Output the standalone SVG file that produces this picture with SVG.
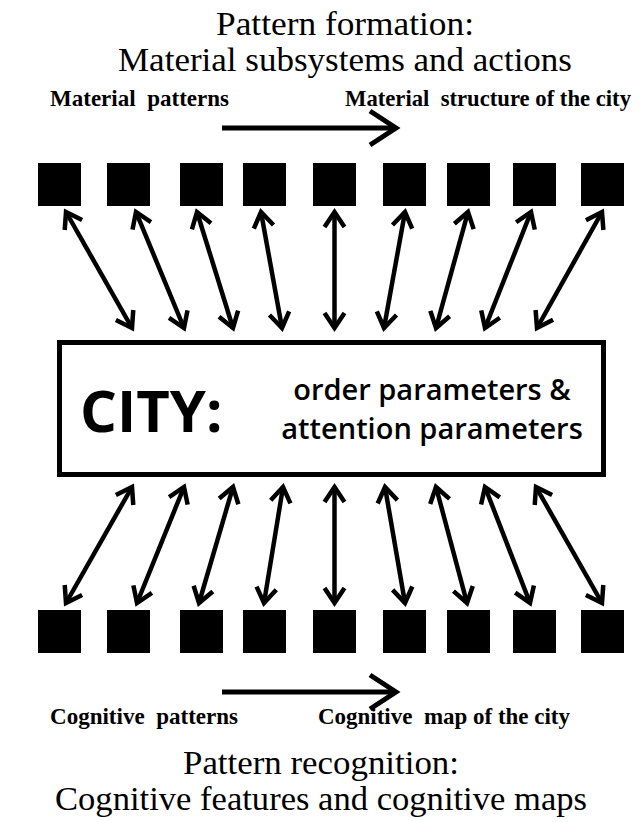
<svg xmlns="http://www.w3.org/2000/svg" width="642" height="822" viewBox="0 0 642 822">
  <style>
    .title { font-family: "Liberation Serif", "Times New Roman", serif; font-size: 34px; fill: #000; text-anchor: middle; }
    .label { font-family: "Liberation Serif", "Times New Roman", serif; font-size: 23px; font-weight: bold; fill: #000; white-space: pre; }
    .sq { fill: #000; }
    .link { stroke: #000; stroke-width: 4.5; fill: none; marker-start: url(#head); marker-end: url(#head); }
    .flow { stroke: #000; stroke-width: 5; fill: none; marker-end: url(#bighead); }
    .city { font-family: "Open Sans", "DejaVu Sans", sans-serif; font-weight: bold; font-size: 58px; fill: #000; }
    .param { font-family: "Open Sans", "DejaVu Sans", sans-serif; font-weight: 600; font-size: 29px; fill: #000; text-anchor: middle; }
  </style>
  <defs>
    <marker id="head" markerUnits="userSpaceOnUse" markerWidth="40" markerHeight="40" viewBox="-20 -20 40 40" refX="0" refY="0" orient="auto-start-reverse" overflow="visible">
      <path d="M -15 -10 L 0 0 L -15 10" fill="none" stroke="#000" stroke-width="4.5" stroke-linejoin="miter"/>
    </marker>
    <marker id="bighead" markerUnits="userSpaceOnUse" markerWidth="60" markerHeight="60" viewBox="-30 -30 60 60" refX="0" refY="0" orient="auto" overflow="visible">
      <path d="M -26 -17 L 0 0 L -26 17" fill="none" stroke="#000" stroke-width="5" stroke-linejoin="miter"/>
    </marker>
  </defs>
  <rect width="642" height="822" fill="#fff"/>

  <!-- headings -->
  <g id="top-heading">
    <text class="title" x="345" y="35" textLength="258" lengthAdjust="spacingAndGlyphs">Pattern formation:</text>
    <text class="title" x="345" y="71" textLength="454" lengthAdjust="spacingAndGlyphs">Material subsystems and actions</text>
  </g>
  <g id="top-flow">
    <text class="label" x="50" y="106" textLength="179" lengthAdjust="spacingAndGlyphs" xml:space="preserve">Material  patterns</text>
    <text class="label" x="345" y="106" textLength="286" lengthAdjust="spacingAndGlyphs" xml:space="preserve">Material  structure of the city</text>
    <line class="flow" x1="222" y1="128" x2="396" y2="128"/>
  </g>

  <!-- material subsystems -->
  <g id="material-nodes">
    <rect id="m1" class="sq" x="38" y="163" width="43" height="43"/>
    <rect id="m2" class="sq" x="107" y="163" width="43" height="43"/>
    <rect id="m3" class="sq" x="180" y="163" width="43" height="43"/>
    <rect id="m4" class="sq" x="243" y="163" width="43" height="43"/>
    <rect id="m5" class="sq" x="313" y="163" width="43" height="43"/>
    <rect id="m6" class="sq" x="383" y="163" width="43" height="43"/>
    <rect id="m7" class="sq" x="447" y="163" width="43" height="43"/>
    <rect id="m8" class="sq" x="513" y="163" width="43" height="43"/>
    <rect id="m9" class="sq" x="581" y="163" width="43" height="43"/>
  </g>

  <!-- city node -->
  <g id="city">
    <rect x="59.5" y="342.5" width="544" height="132" fill="#fff" stroke="#000" stroke-width="5"/>
    <text class="city" x="80" y="432">CITY:</text>
    <text class="param" x="432" y="400">order parameters &amp;</text>
    <text class="param" x="432" y="439">attention parameters</text>
  </g>

  <!-- cognitive features -->
  <g id="cognitive-nodes">
    <rect id="c1" class="sq" x="38" y="610" width="43" height="43"/>
    <rect id="c2" class="sq" x="107" y="610" width="43" height="43"/>
    <rect id="c3" class="sq" x="180" y="610" width="43" height="43"/>
    <rect id="c4" class="sq" x="243" y="610" width="43" height="43"/>
    <rect id="c5" class="sq" x="313" y="610" width="43" height="43"/>
    <rect id="c6" class="sq" x="383" y="610" width="43" height="43"/>
    <rect id="c7" class="sq" x="447" y="610" width="43" height="43"/>
    <rect id="c8" class="sq" x="513" y="610" width="43" height="43"/>
    <rect id="c9" class="sq" x="581" y="610" width="43" height="43"/>
  </g>

  <!-- two-way links between the city and each subsystem -->
  <g id="connectors">
    <line class="link" x1="66" y1="212" x2="132" y2="328"/>
    <line class="link" x1="136" y1="212" x2="184" y2="328"/>
    <line class="link" x1="197" y1="212" x2="233" y2="328"/>
    <line class="link" x1="261" y1="212" x2="282" y2="328"/>
    <line class="link" x1="334.5" y1="212" x2="334.5" y2="328"/>
    <line class="link" x1="405" y1="212" x2="384" y2="328"/>
    <line class="link" x1="468" y1="212" x2="436" y2="328"/>
    <line class="link" x1="531" y1="212" x2="485" y2="328"/>
    <line class="link" x1="602" y1="212" x2="537" y2="328"/>

    <line class="link" x1="132" y1="487" x2="66" y2="603"/>
    <line class="link" x1="184" y1="487" x2="137" y2="603"/>
    <line class="link" x1="233" y1="487" x2="199" y2="603"/>
    <line class="link" x1="283" y1="487" x2="264" y2="603"/>
    <line class="link" x1="334.5" y1="487" x2="334.5" y2="603"/>
    <line class="link" x1="385" y1="487" x2="405" y2="603"/>
    <line class="link" x1="436" y1="487" x2="467" y2="603"/>
    <line class="link" x1="485" y1="487" x2="530" y2="603"/>
    <line class="link" x1="536" y1="487" x2="602" y2="603"/>
  </g>

  <g id="bottom-flow">
    <line class="flow" x1="222" y1="692" x2="396" y2="692"/>
    <text class="label" x="50" y="724" textLength="188" lengthAdjust="spacingAndGlyphs" xml:space="preserve">Cognitive  patterns</text>
    <text class="label" x="318" y="724" textLength="252" lengthAdjust="spacingAndGlyphs" xml:space="preserve">Cognitive  map of the city</text>
  </g>
  <g id="bottom-heading">
    <text class="title" x="321" y="774" textLength="276" lengthAdjust="spacingAndGlyphs">Pattern recognition:</text>
    <text class="title" x="321" y="810" textLength="532" lengthAdjust="spacingAndGlyphs">Cognitive features and cognitive maps</text>
  </g>
</svg>
